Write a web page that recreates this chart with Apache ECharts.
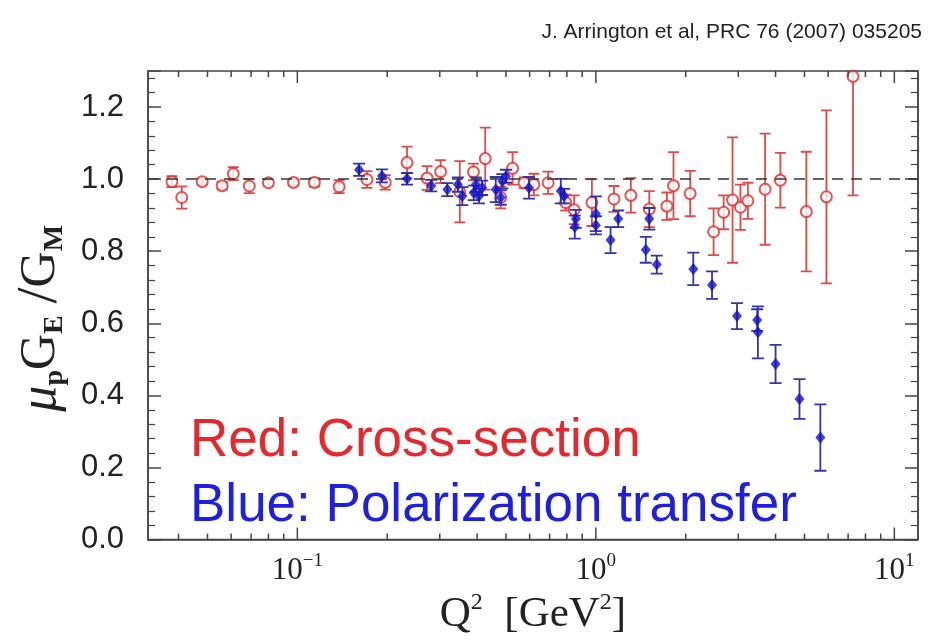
<!DOCTYPE html>
<html><head><meta charset="utf-8">
<script src="https://cdn.jsdelivr.net/npm/echarts@6/dist/echarts.min.js"></script>
<style>html,body{margin:0;padding:0;background:#fff}#c{width:932px;height:644px}</style>
</head><body><div id="c"></div>
<script>
// ---- data ----
const redQ2 = [0.038, 0.041, 0.048, 0.056, 0.061, 0.069, 0.080, 0.097, 0.114, 0.138, 0.171, 0.197, 0.233, 0.272, 0.302, 0.350, 0.389, 0.426, 0.480, 0.526, 0.575, 0.620, 0.692, 0.793, 0.846, 0.970, 1.15, 1.31, 1.51, 1.73, 1.82, 2.07, 2.48, 2.68, 2.87, 3.05, 3.23, 3.69, 4.15, 5.07, 5.92, 7.27];
const redRatio = [0.993, 0.949, 0.993, 0.982, 1.015, 0.981, 0.990, 0.991, 0.991, 0.979, 0.999, 0.991, 1.046, 1.003, 1.021, 0.965, 1.020, 1.057, 0.949, 1.030, 0.990, 0.985, 0.990, 0.935, 0.915, 0.935, 0.945, 0.955, 0.917, 0.925, 0.982, 0.960, 0.854, 0.908, 0.942, 0.922, 0.940, 0.972, 0.997, 0.910, 0.951, 1.285];
const redErr = [0.015, 0.031, 0.008, 0.010, 0.018, 0.020, 0.008, 0.008, 0.012, 0.018, 0.023, 0.020, 0.044, 0.033, 0.032, 0.085, 0.023, 0.086, 0.030, 0.045, 0.015, 0.030, 0.031, 0.022, 0.040, 0.065, 0.036, 0.048, 0.050, 0.038, 0.093, 0.063, 0.065, 0.047, 0.174, 0.063, 0.050, 0.154, 0.076, 0.166, 0.240, 0.330];

const blueQ2 = [0.161, 0.192, 0.233, 0.281, 0.318, 0.345, 0.357, 0.390, 0.396, 0.406, 0.416, 0.462, 0.480, 0.486, 0.500, 0.597, 0.763, 0.783, 0.850, 0.857, 1.00, 1.00, 1.12, 1.188, 1.47, 1.51, 1.60, 2.12, 2.45, 2.97, 3.47, 3.49, 4.00, 4.81, 5.65];
const blueRatio = [1.026, 1.009, 1.001, 0.982, 0.971, 0.985, 0.953, 0.962, 0.985, 0.953, 0.976, 0.971, 0.949, 0.994, 1.008, 0.976, 0.967, 0.953, 0.867, 0.890, 0.904, 0.872, 0.831, 0.890, 0.804, 0.890, 0.763, 0.751, 0.706, 0.620, 0.609, 0.575, 0.487, 0.390, 0.283];
const blueErr = [0.017, 0.018, 0.016, 0.016, 0.018, 0.020, 0.025, 0.020, 0.020, 0.020, 0.020, 0.035, 0.020, 0.020, 0.018, 0.030, 0.034, 0.020, 0.032, 0.025, 0.048, 0.025, 0.036, 0.023, 0.036, 0.030, 0.025, 0.045, 0.038, 0.036, 0.030, 0.072, 0.053, 0.055, 0.092];

// axis structure
const xMin = 0.0316, xMax = 12, yMin = 0, yMax = 1.3, yStep = 0.2;
const xMajorTicks = [0.1, 1, 10];
const xMinorTicks = [];
for (let d = -2; d <= 1; d++) for (let k = 2; k <= 9; k++) {
  const v = +(k * Math.pow(10, d)).toPrecision(3);
  if (v > xMin && v < xMax) xMinorTicks.push(v);
}
const refLine = 1.0;

// ---- chart ----
const chart = echarts.init(document.getElementById('c'), null, {renderer: 'canvas'});
const AX = '#444';

function errItem(color, capHalf) {
  return function (params, api) {
    const x = api.value(0), y = api.value(1), e = api.value(2);
    const lo = api.coord([x, y - e]), hi = api.coord([x, y + e]);
    const st = {stroke: color, lineWidth: 1.8};
    return {type: 'group', children: [
      {type: 'line', shape: {x1: lo[0], y1: lo[1], x2: hi[0], y2: hi[1]}, style: st},
      {type: 'line', shape: {x1: lo[0] - capHalf, y1: lo[1], x2: lo[0] + capHalf, y2: lo[1]}, style: st},
      {type: 'line', shape: {x1: hi[0] - capHalf, y1: hi[1], x2: hi[0] + capHalf, y2: hi[1]}, style: st}
    ]};
  };
}
function tickItem(len) {
  return function (params, api) {
    const cs = params.coordSys;
    const p = api.coord([api.value(0), yMin]);
    const top = cs.y, bot = cs.y + cs.height;
    const st = {stroke: AX, lineWidth: 1.5};
    return {type: 'group', children: [
      {type: 'line', shape: {x1: p[0], y1: bot, x2: p[0], y2: bot - len}, style: st},
      {type: 'line', shape: {x1: p[0], y1: top, x2: p[0], y2: top + len}, style: st}
    ]};
  };
}

const yAxisCommon = {
  type: 'value', min: yMin, max: yMax, interval: yStep,
  axisLine: {show: true, lineStyle: {color: AX, width: 1.5}},
  axisTick: {show: true, inside: true, length: 13, lineStyle: {color: AX, width: 1.5}},
  minorTick: {show: true, splitNumber: 5, length: 7, lineStyle: {color: AX, width: 1.2}},
  splitLine: {show: false}
};

chart.setOption({
  animation: false,
  backgroundColor: '#fff',
  grid: {left: 148, right: 14, top: 71, bottom: 93, show: true, borderColor: AX, borderWidth: 1.5, containLabel: false},
  title: {
    text: 'J. Arrington et al, PRC 76 (2007) 035205',
    right: 5, top: 17,
    textStyle: {fontFamily: 'Liberation Sans', fontSize: 21, fontWeight: 'normal', color: '#222'}
  },
  xAxis: [{
    type: 'log', logBase: 10, min: xMin, max: xMax,
    axisLine: {show: true, lineStyle: {color: AX, width: 1.5}},
    axisTick: {show: false}, splitLine: {show: false},
    axisLabel: {
      margin: 12, color: '#222',
      formatter: function (v) {
        const l = Math.log10(v), e = Math.round(l);
        if (Math.abs(l - e) > 1e-6) return '';
        return '{b|10}{s|' + (e < 0 ? '\u2212' : '') + Math.abs(e) + '}';
      },
      rich: {
        b: {fontFamily: 'Liberation Serif', fontSize: 31, lineHeight: 38, color: '#222'},
        s: {fontFamily: 'Liberation Serif', fontSize: 19, lineHeight: 38, verticalAlign: 'top', color: '#222'}
      }
    },
    name: 'Q{s|2}  [GeV{s|2}]', nameLocation: 'middle', nameGap: 38,
    nameTextStyle: {
      fontFamily: 'Liberation Serif', fontSize: 43, lineHeight: 48, color: '#222',
      rich: {s: {fontFamily: 'Liberation Serif', fontSize: 24, lineHeight: 48, verticalAlign: 'top', color: '#222'}}
    }
  }],
  yAxis: [
    Object.assign({}, yAxisCommon, {
      position: 'left',
      axisLabel: {
        margin: 24, color: '#222', fontFamily: 'Liberation Sans', fontSize: 31,
        formatter: function (v) { return Math.abs(v / yStep - Math.round(v / yStep)) < 1e-6 ? v.toFixed(1) : ''; }
      },
      name: '{mu|\u03bc}{sb|p}{g|G}{sb|E}{sl|\u2009/}{g|G}{sb|M}', nameLocation: 'middle', nameRotate: 90, nameGap: 72,
      nameTextStyle: {
        padding: [0, 26, 0, 0],
        rich: {
          mu: {fontFamily: 'Liberation Serif', fontStyle: 'italic', fontWeight: 'normal', fontSize: 52, lineHeight: 56, color: '#222'},
          g: {fontFamily: 'Liberation Serif', fontWeight: 'normal', fontSize: 50, lineHeight: 56, color: '#222'},
          sl: {fontFamily: 'Liberation Serif', fontWeight: 'normal', fontSize: 58, lineHeight: 56, color: '#222'},
          sb: {fontFamily: 'Liberation Serif', fontWeight: 'bold', fontSize: 28, lineHeight: 56, verticalAlign: 'bottom', color: '#222'}
        }
      }
    }),
    Object.assign({}, yAxisCommon, {position: 'right', axisLabel: {show: false}})
  ],
  graphic: [
    {type: 'text', left: 190, top: 415, z: 100,
      style: {text: 'Red: Cross-section', fill: '#e8262b', fontFamily: 'Liberation Sans', fontSize: 53}},
    {type: 'text', left: 190, top: 480, z: 100,
      style: {text: 'Blue: Polarization transfer', fill: '#1f1fe0', fontFamily: 'Liberation Sans', fontSize: 53}}
  ],
  series: [
    {type: 'custom', name: 'xMajorTicks', renderItem: tickItem(12), silent: true, clip: false,
      data: xMajorTicks.map(v => [v, yMin]), encode: {x: 0, y: 1}, z: 5},
    {type: 'custom', name: 'xMinorTicks', renderItem: tickItem(6), silent: true, clip: false,
      data: xMinorTicks.map(v => [v, yMin]), encode: {x: 0, y: 1}, z: 5},
    {type: 'line', name: 'ref', data: [], silent: true,
      markLine: {silent: true, symbol: 'none', label: {show: false},
        lineStyle: {type: [11, 8], color: '#333', width: 1.6},
        data: [{yAxis: refLine}]}},
    {type: 'custom', name: 'redErr', renderItem: errItem('#e04a4a', 5.5), clip: true, silent: true,
      data: redQ2.map((q, i) => [q, redRatio[i], redErr[i]]), encode: {x: 0, y: 1}, z: 3},
    {type: 'scatter', name: 'Cross-section', symbol: 'circle', symbolSize: 11, clip: true,
      itemStyle: {color: '#ffffff', borderColor: '#e02a2a', borderWidth: 2},
      data: redQ2.map((q, i) => [q, redRatio[i]]), z: 4},
    {type: 'custom', name: 'blueErr', renderItem: errItem('#3535a8', 6), clip: true, silent: true,
      data: blueQ2.map((q, i) => [q, blueRatio[i], blueErr[i]]), encode: {x: 0, y: 1}, z: 6},
    {type: 'scatter', name: 'Polarization transfer', symbol: 'diamond', symbolSize: [10, 12], clip: true,
      itemStyle: {color: '#1010cc'},
      data: blueQ2.map((q, i) => [q, blueRatio[i]]), z: 7}
  ]
});
</script></body></html>
